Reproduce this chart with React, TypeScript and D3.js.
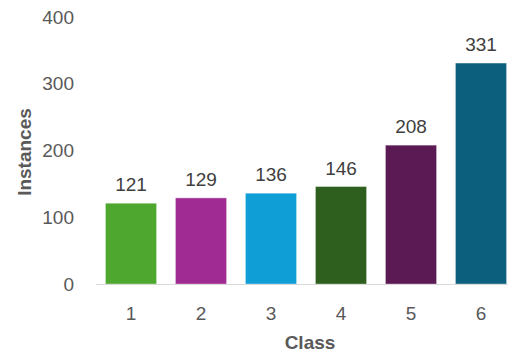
import React from "react";
import * as d3 from "d3";

const categories = ["1", "2", "3", "4", "5", "6"];
const values = [121, 129, 136, 146, 208, 331];
const colors = ["#4EA72E", "#A02B93", "#0F9ED5", "#2E5F1E", "#5C1A55", "#0D5F7E"];
const yTicks = [0, 100, 200, 300, 400];
const xTitle = "Class";
const yTitle = "Instances";

const W = 508;
const H = 356;
const FONT = "'Liberation Sans', Arial, sans-serif";
const TEXT = "#595959";

export default function App() {
  const x = d3.scaleBand<string>().domain(categories).range([96, 516]).paddingInner(0.27).paddingOuter(0.135);
  const y = d3.scaleLinear().domain([0, 400]).range([284, 17]);
  return (
    <svg width={W} height={H} style={{ position: "absolute", left: 0, top: 0, background: "#fff" }}>
      {yTicks.map((t) => (
        <text key={t} x={74} y={y(t)} dy="0.35em" textAnchor="end" fontFamily={FONT} fontSize={19} fill={TEXT}>
          {t}
        </text>
      ))}
      {categories.map((c, i) => (
        <g key={c}>
          <rect
            x={x(c)!}
            y={y(values[i])}
            width={x.bandwidth()}
            height={y(0) - y(values[i])}
            fill={colors[i]}
            stroke="rgba(255,255,255,0.35)"
            strokeWidth={1}
          />
          <text x={x(c)! + x.bandwidth() / 2} y={y(values[i]) - 12} textAnchor="middle" fontFamily={FONT} fontSize={19} fill="#404040">
            {values[i]}
          </text>
          <text x={x(c)! + x.bandwidth() / 2} y={320} textAnchor="middle" fontFamily={FONT} fontSize={19} fill={TEXT}>
            {c}
          </text>
        </g>
      ))}
      <line x1={96} x2={516} y1={y(0) + 0.5} y2={y(0) + 0.5} stroke="#D9D9D9" strokeWidth={1} />
      <text x={310} y={349} textAnchor="middle" fontFamily={FONT} fontSize={19} fontWeight="bold" fill={TEXT}>
        {xTitle}
      </text>
      <text transform={`translate(31,152) rotate(-90)`} textAnchor="middle" fontFamily={FONT} fontSize={19} fontWeight="bold" fill={TEXT}>
        {yTitle}
      </text>
    </svg>
  );
}
